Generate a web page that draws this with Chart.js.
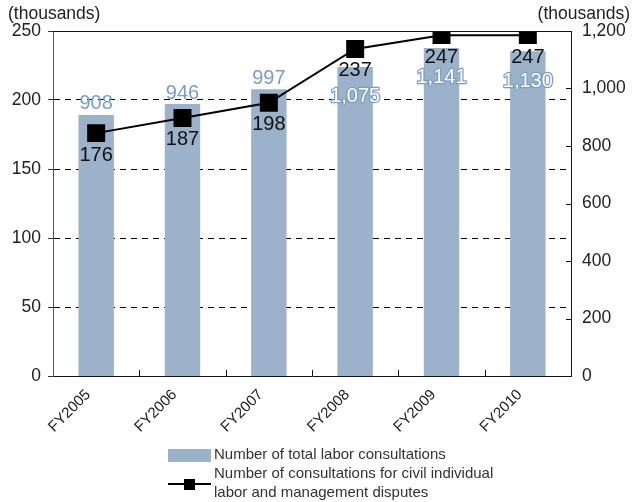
<!DOCTYPE html>
<html>
<head>
<meta charset="utf-8">
<script src="https://cdn.jsdelivr.net/npm/chart.js@4"></script>
<style>
  html, body { margin: 0; padding: 0; background: #fff; }
  #wrap { position: relative; width: 633px; height: 502px; }
</style>
</head>
<body>
<div id="wrap"><canvas id="c" width="633" height="502"></canvas></div>
<script>
const categories = ['FY2005', 'FY2006', 'FY2007', 'FY2008', 'FY2009', 'FY2010'];
const totalConsultations = [908, 946, 997, 1075, 1141, 1130];
const civilDisputes = [176, 187, 198, 237, 247, 247];
const leftTicks = [0, 50, 100, 150, 200, 250];
const rightTicks = [0, 200, 400, 600, 800, 1000, 1200];
const barLabel = 'Number of total labor consultations';
const lineLabelLines = ['Number of consultations for civil individual', 'labor and management disputes'];
const unitText = '(thousands)';

const FONT = '"Liberation Sans", Arial, sans-serif';
const BAR_COLOR = '#9cb1ca';
const BAR_TEXT = '#7c9dc6';
const TEXT = '#222';

const fmt = v => Number(v).toLocaleString('en-US');

const decorPlugin = {
  id: 'decor',
  afterDraw(chart) {
    const ctx = chart.ctx;
    const a = chart.chartArea;
    const x = chart.scales.x;
    const y1 = chart.scales.y1;
    ctx.save();
    // top frame line
    ctx.strokeStyle = '#111';
    ctx.lineWidth = 1;
    ctx.beginPath();
    ctx.moveTo(a.left, a.top + 0.5);
    ctx.lineTo(a.right, a.top + 0.5);
    ctx.stroke();
    // inward ticks on right axis
    ctx.beginPath();
    rightTicks.forEach(v => {
      const py = Math.round(y1.getPixelForValue(v)) + 0.5;
      ctx.moveTo(a.right - 5, py);
      ctx.lineTo(a.right, py);
    });
    // inward ticks on x axis at category boundaries
    for (let i = 1; i < categories.length; i++) {
      const px = Math.round((x.getPixelForValue(i - 1) + x.getPixelForValue(i)) / 2) + 0.5;
      ctx.moveTo(px, a.bottom);
      ctx.lineTo(px, a.bottom - 6);
    }
    ctx.stroke();

    // unit labels
    ctx.fillStyle = TEXT;
    ctx.font = '17.5px ' + FONT;
    ctx.textBaseline = 'middle';
    ctx.textAlign = 'left';
    ctx.fillText(unitText, 8, 14);
    ctx.textAlign = 'right';
    ctx.fillText(unitText, 630, 14);

    // legend
    ctx.textAlign = 'left';
    ctx.font = '15px ' + FONT;
    ctx.fillStyle = BAR_COLOR;
    ctx.fillRect(168, 449, 43, 13);
    ctx.fillStyle = '#333';
    ctx.fillText(barLabel, 214, 455);
    ctx.strokeStyle = '#000';
    ctx.lineWidth = 2;
    ctx.beginPath();
    ctx.moveTo(168, 484);
    ctx.lineTo(211, 484);
    ctx.stroke();
    ctx.fillStyle = '#000';
    ctx.fillRect(184, 479, 11, 11);
    ctx.fillStyle = '#333';
    ctx.fillText(lineLabelLines[0], 214, 474);
    ctx.fillText(lineLabelLines[1], 214, 493);
    ctx.restore();
  },
  afterDatasetsDraw(chart) {
    const ctx = chart.ctx;
    ctx.save();
    ctx.textAlign = 'center';
    ctx.textBaseline = 'middle';
    ctx.font = '20px ' + FONT;
    const barMeta = chart.getDatasetMeta(1);
    barMeta.data.forEach((el, i) => {
      const txt = fmt(totalConsultations[i]);
      if (i < 3) {
        ctx.fillStyle = BAR_TEXT;
        ctx.fillText(txt, el.x, el.y - 11);
      } else {
        ctx.lineWidth = 2.5;
        ctx.strokeStyle = BAR_TEXT;
        ctx.lineJoin = 'round';
        ctx.strokeText(txt, el.x, el.y + 30);
        ctx.fillStyle = '#fff';
        ctx.fillText(txt, el.x, el.y + 30);
      }
    });
    const lineMeta = chart.getDatasetMeta(0);
    ctx.fillStyle = '#111';
    lineMeta.data.forEach((el, i) => {
      ctx.fillText(fmt(civilDisputes[i]), el.x, el.y + 22);
    });
    ctx.restore();
  }
};

new Chart(document.getElementById('c'), {
  data: {
    labels: categories,
    datasets: [
      {
        type: 'line',
        label: lineLabelLines.join(' '),
        data: civilDisputes,
        yAxisID: 'y',
        borderColor: '#000',
        backgroundColor: '#000',
        borderWidth: 2,
        tension: 0,
        pointStyle: 'rect',
        pointRadius: 12.7,
        pointHoverRadius: 12.7,
        pointBackgroundColor: '#000',
        pointBorderWidth: 0,
        order: 1
      },
      {
        type: 'bar',
        label: barLabel,
        data: totalConsultations,
        yAxisID: 'y1',
        backgroundColor: BAR_COLOR,
        borderWidth: 0,
        barPercentage: 0.41,
        categoryPercentage: 1,
        order: 2
      }
    ]
  },
  options: {
    responsive: false,
    animation: false,
    events: [],
    layout: { padding: { top: 31, bottom: 0, left: 0, right: 0 } },
    plugins: { legend: { display: false }, tooltip: { enabled: false } },
    scales: {
      x: {
        offset: true,
        grid: { display: false, drawTicks: false },
        border: { display: true, color: '#111', width: 1 },
        ticks: {
          color: TEXT,
          font: { family: FONT, size: 15 },
          minRotation: 45,
          maxRotation: 45,
          padding: 10,
          labelOffset: -8
        },
        afterFit(s) { s.height = 126; }
      },
      y: {
        position: 'left',
        min: 0,
        max: 250,
        afterBuildTicks(s) { s.ticks = leftTicks.map(v => ({ value: v })); },
        grid: {
          color: c => (c.tick && c.tick.value > 0 && c.tick.value < 250) ? '#000' : 'rgba(0,0,0,0)',
          lineWidth: 1,
          tickColor: '#333',
          tickLength: 5,
          tickBorderDash: []
        },
        border: { display: true, color: '#555', width: 1, dash: [6, 5] },
        ticks: {
          color: TEXT,
          font: { family: FONT, size: 17.5 },
          padding: 7
        },
        afterFit(s) { s.width = 53; }
      },
      y1: {
        position: 'right',
        min: 0,
        max: 1200,
        afterBuildTicks(s) { s.ticks = rightTicks.map(v => ({ value: v })); },
        grid: { display: false, drawTicks: false, drawOnChartArea: false },
        border: { display: true, color: '#111', width: 1 },
        ticks: {
          color: TEXT,
          font: { family: FONT, size: 17.5 },
          padding: 11,
          callback: v => fmt(v)
        },
        afterFit(s) { s.width = 62; }
      }
    }
  },
  plugins: [decorPlugin]
});
</script>
</body>
</html>
